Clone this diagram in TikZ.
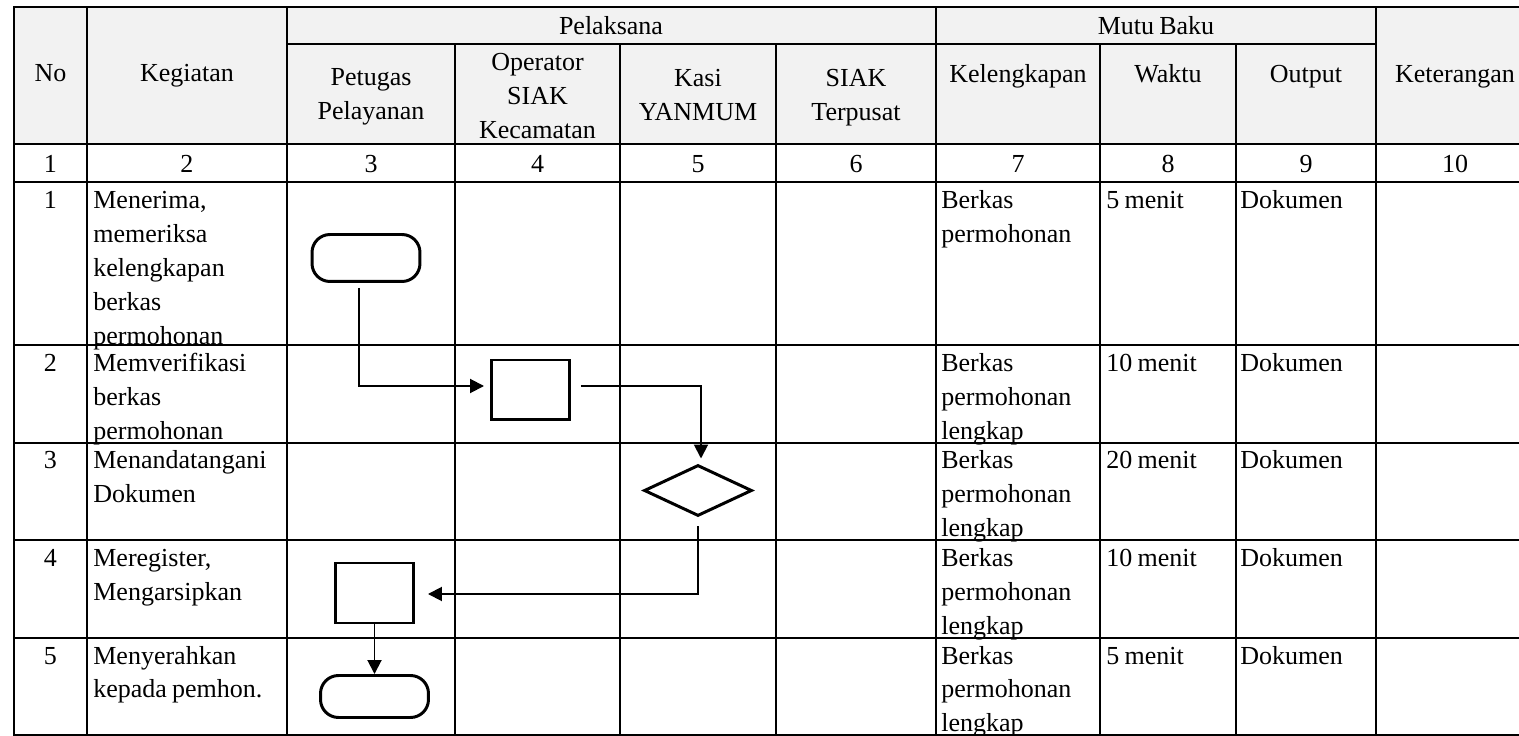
\documentclass[tikz,border=0pt]{standalone}
\usepackage{fontspec}
\setmainfont{Liberation Serif}
\usetikzlibrary{arrows.meta,shapes.geometric}
\definecolor{headgray}{HTML}{F2F2F2}

\begin{document}
\begin{tikzpicture}[x=0.02cm, y=-0.02cm, >={Triangle[length=0.28cm,width=0.28cm]},
        grid/.style={line width=1.5pt, line cap=rect},
        txt/.style={inner sep=0pt, font=\fontsize{14.8}{19.35}\selectfont},
        head/.style={txt, text width=3cm, anchor=base, execute at begin node={\centering\spaceskip=0.2em\relax}},
        cell/.style={txt, text width=3.9cm, anchor=base west, execute at begin node={\raggedright\spaceskip=0.2em\relax}},
        term/.style={draw, line width=1.7pt, rounded corners=0.36cm, minimum width=2.16cm, minimum height=0.94cm},
        proc/.style={draw, line width=1.7pt, minimum width=1.56cm, minimum height=1.2cm},
        dec/.style={draw, diamond, line width=1.7pt, inner sep=0pt, minimum width=2.16cm, minimum height=1.02cm},
        flow/.style={->, line width=1.1pt}]
        \useasboundingbox (0,0) rectangle (1519,736);
        \fill [headgray] (14,7) rectangle (1519,144);

        % header
        \node [head] (hno) at (50.5,82) {No};
        \node [head] (hkeg) at (187,82) {Kegiatan};
        \node [head] (hpel) at (611,35) {Pelaksana};
        \node [head] (hmutu) at (1156,35) {Mutu Baku};
        \node [head] (hket) at (1455,83) {Keterangan};
        \node [head] (hpet) at (371,86) {Petugas\\Pelayanan};
        \node [head] (hops) at (537.5,71) {Operator\\SIAK\\Kecamatan};
        \node [head] (hkasi) at (698,87) {Kasi\\YANMUM};
        \node [head] (hsiak) at (856,87) {SIAK\\Terpusat};
        \node [head] (hkel) at (1018,83) {Kelengkapan};
        \node [head] (hwak) at (1168,83) {Waktu};
        \node [head] (hout) at (1306,83) {Output};
        \foreach \x/\n in {50.5/1, 187/2, 371/3, 537.5/4, 698/5, 856/6, 1018/7, 1168/8, 1306/9, 1455/10}
            \node [head] (col\n) at (\x,173) {\n};

        % rows
        \node [head] (no1) at (50.5,209) {1};
        \node [cell] (keg1) at (93,209) {Menerima,\\memeriksa\\kelengkapan\\berkas\\permohonan};
        \node [cell] (kel1) at (941,209) {Berkas\\permohonan};
        \node [cell] (wak1) at (1106,209) {5 menit};
        \node [cell] (out1) at (1240,209) {Dokumen};

        \node [head] (no2) at (50.5,372) {2};
        \node [cell] (keg2) at (93,372) {Memverifikasi\\berkas\\permohonan};
        \node [cell] (kel2) at (941,372) {Berkas\\permohonan\\lengkap};
        \node [cell] (wak2) at (1106,372) {10 menit};
        \node [cell] (out2) at (1240,372) {Dokumen};

        \node [head] (no3) at (50.5,469) {3};
        \node [cell] (keg3) at (93,469) {Menandatangani\\Dokumen};
        \node [cell] (kel3) at (941,469) {Berkas\\permohonan\\lengkap};
        \node [cell] (wak3) at (1106,469) {20 menit};
        \node [cell] (out3) at (1240,469) {Dokumen};

        \node [head] (no4) at (50.5,567) {4};
        \node [cell] (keg4) at (93,567) {Meregister,\\Mengarsipkan};
        \node [cell] (kel4) at (941,567) {Berkas\\permohonan\\lengkap};
        \node [cell] (wak4) at (1106,567) {10 menit};
        \node [cell] (out4) at (1240,567) {Dokumen};

        \node [head] (no5) at (50.5,664) {5};
        \node [cell] (keg5) at (93,664) {Menyerahkan\\kepada pemhon.};
        \node [cell] (kel5) at (941,664) {Berkas\\permohonan\\lengkap};
        \node [cell] (wak5) at (1106,664) {5 menit};
        \node [cell] (out5) at (1240,664) {Dokumen};

        % grid
        \foreach \y in {7,144,182,345,443,540,638,735}
            \draw [grid] (14,\y) -- (1519,\y);
        \draw [grid] (287,44) -- (1376,44);
        \foreach \x in {14,87,287,936,1376}
            \draw [grid] (\x,7) -- (\x,735);
        \foreach \x in {455,620,776,1100,1236}
            \draw [grid] (\x,44) -- (\x,735);

        % flow
        \node [term] (start) at (366,258) {};
        \node [proc] (verif) at (530.5,390) {};
        \node [dec] (sign) at (698,490.5) {};
        \node [proc] (arsip) at (374.5,593) {};
        \node [term, minimum height=0.84cm] (serah) at (374.5,696.5) {};

        \draw [flow, shorten >=0.12cm] ([xshift=-0.14cm, yshift=-0.1cm]start.south) |- ([yshift=0.08cm]verif.west);
        \draw [flow, shorten >=0.1cm] ([xshift=0.2cm, yshift=0.08cm]verif.east) -| ([xshift=0.06cm]sign.north);
        \draw [flow, shorten >=0.26cm] ([yshift=-0.18cm]sign.south) |- ([yshift=-0.02cm]arsip.east);
        \draw [flow] (arsip.south) -- (serah.north);
    \end{tikzpicture}
\end{document}
